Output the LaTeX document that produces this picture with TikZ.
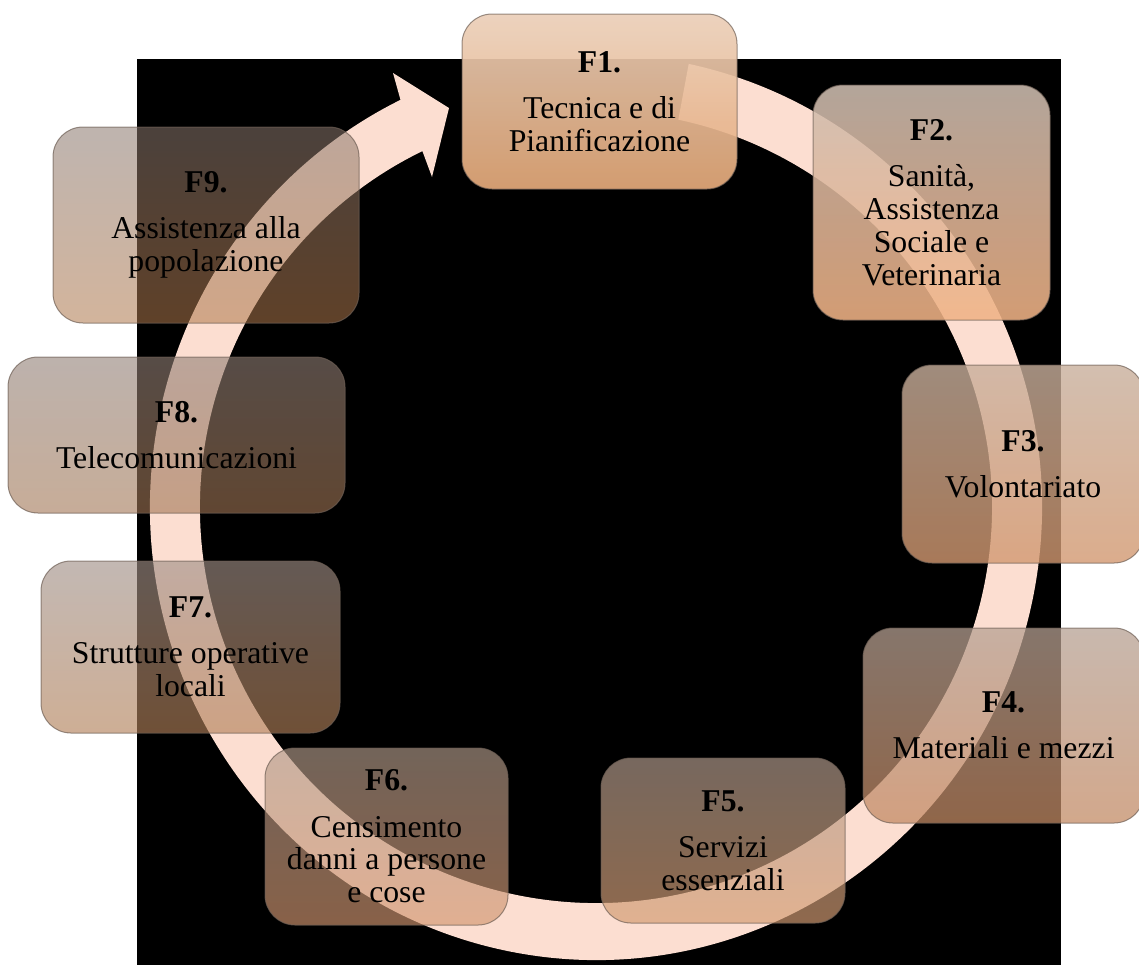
\documentclass[tikz,border=0pt]{standalone}
\usepackage{fontspec}
\setmainfont{Liberation Serif}
\usetikzlibrary{calc}
\definecolor{ringc}{RGB}{252,222,209}
\definecolor{edgec}{RGB}{110,95,85}
\definecolor{ta}{RGB}{235,207,185}\definecolor{ba}{RGB}{230,170,122}
\definecolor{tb}{RGB}{205,188,176}\definecolor{bb}{RGB}{240,178,133}
\definecolor{tc}{RGB}{200,175,156}\definecolor{bc}{RGB}{210,152,112}
\definecolor{td}{RGB}{182,160,146}\definecolor{bd}{RGB}{195,138,100}
\definecolor{te}{RGB}{176,154,140}\definecolor{be}{RGB}{212,156,114}
\definecolor{tf}{RGB}{177,154,138}\definecolor{bf}{RGB}{210,150,112}
\definecolor{tg}{RGB}{160,143,135}\definecolor{bg}{RGB}{178,128,88}
\definecolor{th}{RGB}{145,127,118}\definecolor{bh}{RGB}{162,118,84}
\definecolor{ti}{RGB}{138,120,110}\definecolor{bi}{RGB}{175,120,75}
\tikzset{
  fnode/.style={rounded corners=22.5pt, inner sep=0pt, align=center,
    draw=edgec, draw opacity=0.7, line width=0.75pt, text opacity=1,
    font=\fontsize{23.8}{24.6}\selectfont},
  ringfill/.style={fill=ringc}
}
\begin{document}
\begin{tikzpicture}[x=0.75pt,y=-0.75pt]
\useasboundingbox (0,0) rectangle (1139,965);
\clip (0,0) rectangle (1139,965);
\fill[white] (0,0) rectangle (1139,965);
\fill[black] (137,59) rectangle (1061,965);
% ring arrow
\coordinate (c) at (596,507);
\coordinate (ot) at ($(c)+(-78:446 and 453)$);
\coordinate (hb1) at (393,73);
\coordinate (tip) at (449,108);
\coordinate (hb2) at (432,177);
\coordinate (ih) at ($(c)+(244:396)$);
\fill[ringfill] (ot) arc[start angle=-78, end angle=244, x radius=446, y radius=453]
  -- (hb1) -- (tip) -- (hb2) -- (ih)
  arc[start angle=244, end angle=-78, radius=396] -- cycle;
% boxes
\node[fnode, minimum width=206.25pt, minimum height=131.25pt, top color=ta, bottom color=ba, fill opacity=.92] (f1) at (599.5,101.5) {\textbf{F1.}\\[10pt]Tecnica e di\\Pianificazione};
\node[fnode, minimum width=177.75pt, minimum height=176.25pt, top color=tb, bottom color=bb, fill opacity=.88] (f2) at (931.5,202.5) {\textbf{F2.}\\[10pt]Sanità,\\Assistenza\\Sociale e\\Veterinaria};
\node[fnode, minimum width=181.5pt, minimum height=148.5pt, top color=tc, bottom color=bc, fill opacity=.80] (f3) at (1023,464) {\textbf{F3.}\\[10pt]Volontariato};
\node[fnode, minimum width=210.75pt, minimum height=146.25pt, top color=td, bottom color=bd, fill opacity=.74] (f4) at (1003.5,725.5) {\textbf{F4.}\\[10pt]Materiali e mezzi};
\node[fnode, minimum width=183pt, minimum height=123.75pt, top color=te, bottom color=be, fill opacity=.68] (f5) at (723,840.5) {\textbf{F5.}\\[10pt]Servizi\\essenziali};
\node[fnode, minimum width=182.25pt, minimum height=132.75pt, top color=tf, bottom color=bf, fill opacity=.65] (f6) at (386.5,836.5) {\textbf{F6.}\\[10pt]Censimento\\danni a persone\\e cose};
\node[fnode, minimum width=224.25pt, minimum height=129pt, top color=tg, bottom color=bg, fill opacity=.63] (f7) at (190.5,647) {\textbf{F7.}\\[10pt]Strutture operative\\locali};
\node[fnode, minimum width=252.75pt, minimum height=117pt, top color=th, bottom color=bh, fill opacity=.60] (f8) at (176.5,435) {\textbf{F8.}\\[10pt]Telecomunicazioni};
\node[fnode, minimum width=229.5pt, minimum height=147pt, top color=ti, bottom color=bi, fill opacity=.55] (f9) at (206,225) {\textbf{F9.}\\[10pt]Assistenza alla\\popolazione};
\end{tikzpicture}
\end{document}
